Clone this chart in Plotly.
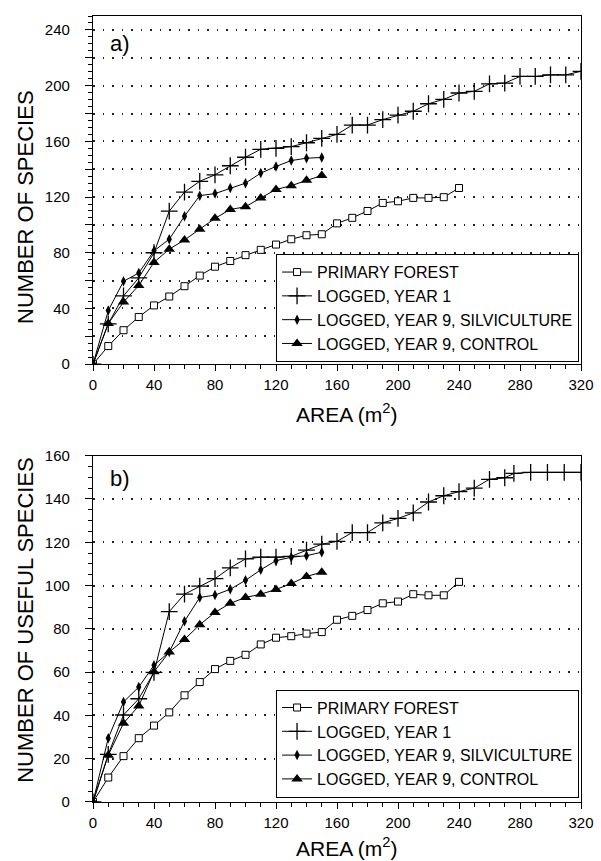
import plotly.graph_objects as go

# ---------------- DATA ----------------
# Panel a) Number of species
a_primary_x = [0, 10, 20, 30, 40, 50, 60, 70, 80, 90, 100, 110, 120, 130, 140, 150, 160, 170, 180, 190, 200, 210, 220, 230, 240]
a_primary_y = [0, 13, 24.4, 33.9, 42.2, 48.6, 56, 63.6, 70, 74.1, 78.3, 82.1, 85.9, 89.7, 92.6, 93.3, 101.1, 105.1, 110, 115.8, 117, 119.4, 119.4, 119.9, 126.5]

a_year1_x = [0, 10, 20, 30, 40, 50, 60, 70, 80, 90, 100, 110, 120, 130, 140, 150, 160, 170, 180, 190, 200, 210, 220, 230, 240, 250, 260, 270, 280, 290, 300, 310, 320]
a_year1_y = [0, 29, 49, 62, 80, 109.9, 123.6, 131.3, 136, 142.5, 148.6, 154.3, 155, 156.2, 159, 162.1, 165, 171.7, 171.7, 175.6, 178.8, 181.6, 187, 190.2, 194.7, 195.9, 201.3, 201.8, 206.6, 206.6, 207.7, 207.7, 210.3]

a_silv_x = [0, 10, 20, 30, 40, 50, 60, 70, 80, 90, 100, 110, 120, 130, 140, 150]
a_silv_y = [0, 38.5, 59.5, 65.5, 81.4, 89.7, 106.3, 121, 122.5, 126.5, 130, 137.2, 142, 146.2, 147.9, 148.4]

a_ctrl_x = [0, 10, 20, 30, 40, 50, 60, 70, 80, 90, 100, 110, 120, 130, 140, 150]
a_ctrl_y = [0, 29.2, 44.6, 56.5, 73.1, 82.6, 89.2, 96.9, 104.7, 111.1, 113, 119.4, 125.4, 128.2, 132, 135.5]

# Panel b) Number of useful species
b_primary_x = [0, 10, 20, 30, 40, 50, 60, 70, 80, 90, 100, 110, 120, 130, 140, 150, 160, 170, 180, 190, 200, 210, 220, 230, 240]
b_primary_y = [0, 11.3, 21.2, 29.5, 35.3, 41.4, 49.3, 55.4, 61.4, 65.2, 68, 72.8, 75.9, 76.6, 77.8, 78.5, 84.2, 86, 88.7, 91.8, 92.6, 96, 95.5, 95.5, 101.7]

b_year1_x = [0, 10, 20, 30, 40, 50, 60, 70, 80, 90, 100, 110, 120, 130, 140, 150, 160, 170, 180, 190, 200, 210, 220, 230, 240, 250, 260, 270, 276, 287, 298, 309, 320]
b_year1_y = [0, 22, 40.2, 47.7, 59.9, 88, 96, 99.7, 103.2, 108.2, 112.3, 113.1, 113.1, 113.5, 116.4, 119.1, 120.4, 124.5, 124.5, 129, 131, 133.6, 138.6, 141.5, 143.4, 145, 149.1, 149.8, 151.8, 152.3, 152.3, 152.3, 152.3]

b_silv_x = [0, 10, 20, 30, 40, 50, 60, 70, 80, 90, 100, 110, 120, 130, 140, 150]
b_silv_y = [0, 29.5, 46.2, 53.1, 63.2, 69.3, 83.5, 94.5, 95.6, 98.3, 102.4, 107.3, 111.5, 113.1, 113.8, 115.4]

b_ctrl_x = [0, 10, 20, 30, 40, 50, 60, 70, 80, 90, 100, 110, 120, 130, 140, 150]
b_ctrl_y = [0, 21.6, 36.4, 44.4, 60.2, 69.3, 75.1, 81.9, 87.6, 91.8, 94.5, 96, 98.2, 100.9, 104.2, 106.2]

series_names = ["PRIMARY FOREST", "LOGGED, YEAR 1", "LOGGED, YEAR 9, SILVICULTURE", "LOGGED, YEAR 9, CONTROL"]

x_ticks = [0, 40, 80, 120, 160, 200, 240, 280, 320]
a_y_ticks = list(range(0, 241, 20))
a_y_labels = [str(v) if v % 40 == 0 else " " for v in a_y_ticks]
b_y_ticks = list(range(0, 161, 20))
b_y_labels = [str(v) for v in b_y_ticks]

# ---------------- STYLE ----------------
FONT = "Liberation Sans, Arial, Helvetica, sans-serif"
markers = [
    dict(symbol="square", size=7, color="white", line=dict(width=1, color="black")),
    dict(symbol="cross-thin", size=12, color="black", line=dict(width=1.3, color="black")),
    dict(symbol="diamond-tall", size=7.5, color="black", line=dict(width=0)),
    dict(symbol="triangle-up", size=10, color="black", line=dict(width=0)),
]

fig = go.Figure()

panel_a = [(a_primary_x, a_primary_y), (a_year1_x, a_year1_y), (a_silv_x, a_silv_y), (a_ctrl_x, a_ctrl_y)]
panel_b = [(b_primary_x, b_primary_y), (b_year1_x, b_year1_y), (b_silv_x, b_silv_y), (b_ctrl_x, b_ctrl_y)]

for i, (xs, ys) in enumerate(panel_a):
    fig.add_trace(go.Scatter(x=xs, y=ys, mode="lines+markers", name=series_names[i],
                             line=dict(color="black", width=1), marker=markers[i],
                             xaxis="x", yaxis="y", legend="legend"))
for i, (xs, ys) in enumerate(panel_b):
    fig.add_trace(go.Scatter(x=xs, y=ys, mode="lines+markers", name=series_names[i],
                             line=dict(color="black", width=1), marker=markers[i],
                             xaxis="x2", yaxis="y2", legend="legend2"))

common_x = dict(range=[0, 320], tickvals=x_ticks, ticks="outside", ticklen=6, tickwidth=1,
                tickcolor="black", showline=True, linecolor="black", linewidth=1.3, mirror=True,
                showgrid=False, zeroline=False, ticklabelstandoff=1,
                minor=dict(dtick=10, ticks="outside", ticklen=4, tickcolor="black", showgrid=False),
                tickfont=dict(family=FONT, size=15, color="black"))
common_y = dict(ticks="outside", ticklen=7, tickwidth=1, tickcolor="black",
                showline=True, linecolor="black", linewidth=1.3, mirror=True,
                showgrid=True, gridcolor="#222", gridwidth=1.5, griddash="1.5px,8px",
                zeroline=False, ticklabelstandoff=12,
                minor=dict(dtick=5, ticks="outside", ticklen=4, tickcolor="black", showgrid=False),
                tickfont=dict(family=FONT, size=15, color="black"))

legend_common = dict(x=0.996, xanchor="right", yanchor="top", bgcolor="white",
                     bordercolor="black", borderwidth=1, tracegroupgap=0,
                     font=dict(family=FONT, size=16, color="black"))

fig.update_layout(
    width=601, height=861,
    margin=dict(l=93, r=20, t=7, b=59),
    paper_bgcolor="white", plot_bgcolor="white",
    font=dict(family=FONT, color="black"),
    xaxis=dict(domain=[0, 1], anchor="y", **common_x),
    yaxis=dict(domain=[0.557, 1.0], anchor="x", range=[0, 250], tickmode="array",
               tickvals=a_y_ticks, ticktext=a_y_labels, **common_y),
    xaxis2=dict(domain=[0, 1], anchor="y2", **common_x),
    yaxis2=dict(domain=[0, 0.4406], anchor="x2", range=[0, 160], tickmode="array",
                tickvals=b_y_ticks, ticktext=b_y_labels, **common_y),
    legend=dict(y=0.697, **legend_common),
    legend2=dict(y=0.143, **legend_common),
    showlegend=True,
)

ann_font = dict(family=FONT, size=22, color="black")
xt_font = dict(family=FONT, size=21, color="black")
fig.add_annotation(text="a)", xref="paper", yref="paper", x=0.031, y=0.965,
                   xanchor="left", yanchor="middle", showarrow=False, font=ann_font)
fig.add_annotation(text="b)", xref="paper", yref="paper", x=0.031, y=0.411,
                   xanchor="left", yanchor="middle", showarrow=False, font=ann_font)
fig.add_annotation(text="NUMBER OF SPECIES", xref="paper", yref="paper", x=-0.137, y=0.756,
                   xanchor="center", yanchor="middle", textangle=-90, showarrow=False, font=ann_font)
fig.add_annotation(text="NUMBER OF USEFUL SPECIES", xref="paper", yref="paper", x=-0.137, y=0.232,
                   xanchor="center", yanchor="middle", textangle=-90, showarrow=False, font=ann_font)
fig.add_annotation(text="AREA (m<sup>2</sup>)", xref="paper", yref="paper", x=0.52, y=0.4955,
                   xanchor="center", yanchor="middle", showarrow=False, font=xt_font)
fig.add_annotation(text="AREA (m<sup>2</sup>)", xref="paper", yref="paper", x=0.52, y=-0.057,
                   xanchor="center", yanchor="middle", showarrow=False, font=xt_font)

fig.write_html("out.html", config={"displayModeBar": False},
               post_script="document.body.style.margin='0px';document.body.style.overflow='hidden';")
